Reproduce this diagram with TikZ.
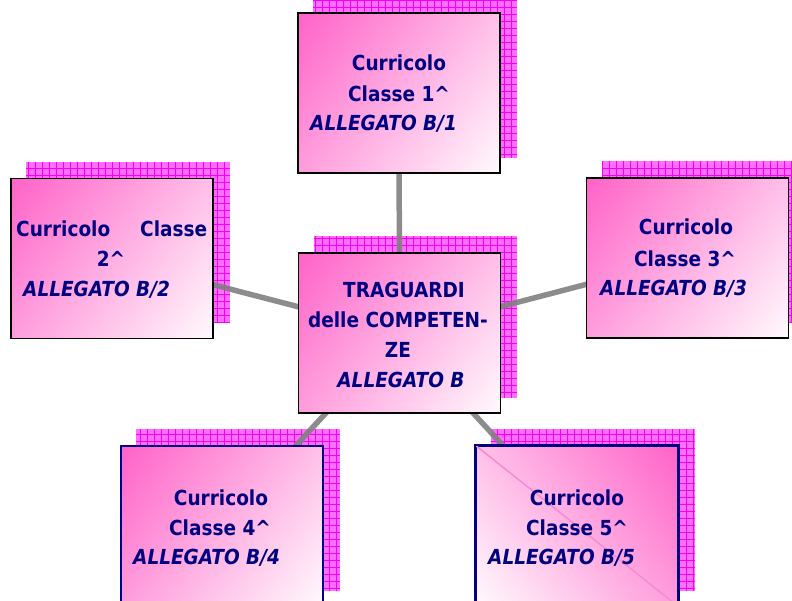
\documentclass[tikz,border=0pt]{standalone}
\usepackage{fontspec}
\setmainfont{DejaVu Sans}
\usetikzlibrary{calc}
\definecolor{navy}{RGB}{0,0,128}
\definecolor{hotpink}{RGB}{255,98,200}
\definecolor{midpink}{RGB}{255,172,224}
\definecolor{palepink}{RGB}{255,250,253}
\definecolor{shadowpink}{RGB}{255,110,255}
\definecolor{gridmag}{RGB}{245,0,245}
\definecolor{conngray}{RGB}{128,128,128}
\definecolor{diagpink}{RGB}{245,140,210}
\pgfdeclarelayer{shadowlayer}
\pgfdeclarelayer{connlayer}
\pgfsetlayers{shadowlayer,connlayer,main}
\newcommand{\tallt}[1]{\scalebox{1}[1.12]{#1}}
\begin{document}
\begin{tikzpicture}[x=1pt,y=-1pt,
  box/.style={rectangle, minimum width=202pt, minimum height=160pt, inner sep=0pt,
    line width=1.8pt, draw=black},
  gradfill/.style={path picture={
    \shade[transform canvas={rotate around={#1:(path picture bounding box.center)}},
      left color=hotpink, middle color=midpink, right color=palepink]
      ($(path picture bounding box.center)+(-129,-129)$) rectangle
      ($(path picture bounding box.center)+(129,129)$);}},
  txt/.style={font=\fontsize{18.5}{22}\selectfont\bfseries, text=navy, inner sep=0pt, anchor=base},
  itxt/.style={font=\fontsize{18.5}{22}\selectfont\bfseries\itshape, text=navy, inner sep=0pt, anchor=base west},
  conn/.style={draw=conngray, line width=5.5pt, draw opacity=0.9},
  shadowfill/.style={fill=shadowpink},
  shadowgrid/.style={draw=gridmag, line width=0.7pt}
  ]
\useasboundingbox (0,0) rectangle (792,601);

% boxes
\node[box, gradfill=-38.4] (b1) at (399,93) {};
\node[box, gradfill=-38.4] (b2) at (112,258.5) {};
\node[box, gradfill=-38.4] (bc) at (399.5,333) {};
\node[box, gradfill=-38.4] (b3) at (687.5,258) {};
\node[box, gradfill=-38.4, draw=navy] (b4) at (222,526) {};
\node[box, gradfill=218.4, draw=navy] (b5) at (577,526) {};
\draw[diagpink, line width=1.5pt] (b5.north west) -- (b5.south east);
\draw[navy, line width=1.8pt] (b5.north west) rectangle (b5.south east);

% shadows
\begin{pgfonlayer}{shadowlayer}
\foreach \b in {b1,b2,bc,b3,b4,b5}{
  \fill[shadowfill] ($(\b.north west)+(16,-16)$) rectangle ($(\b.south east)+(16,-16)$);
  \draw[shadowgrid] ($(\b.north west)+(16,-16)$) grid[step=7pt] ($(\b.south east)+(16,-16)$);
}
\end{pgfonlayer}

% connectors
\begin{pgfonlayer}{connlayer}
\draw[conn] (bc.center) -- (b1.center);
\draw[conn] (bc.center) -- (b2.center);
\draw[conn] (bc.center) -- (b3.center);
\draw[conn] (bc.center) -- (b4.center);
\draw[conn] (bc.center) -- (b5.center);
\end{pgfonlayer}

% texts box 1
\node[txt] (t1a) at (399,71) {\tallt{Curricolo}};
\node[txt] (t1b) at (399,102) {\tallt{Classe 1\textasciicircum}};
\node[itxt] (t1c) at (310,131) {\tallt{ALLEGATO B/1}};
% box 2
\node[txt, anchor=base west] (t2a) at (16,237) {\tallt{\makebox[191pt][s]{Curricolo\hfill Classe}}};
\node[txt] (t2b) at (111,267) {\tallt{2\textasciicircum}};
\node[itxt] (t2c) at (23,297) {\tallt{ALLEGATO B/2}};
% centre
\node[txt] (tca) at (404,298) {\tallt{TRAGUARDI}};
\node[txt] (tcb) at (398,328) {\tallt{delle COMPETEN-}};
\node[txt] (tcc) at (398,358) {\tallt{ZE}};
\node[txt, font=\fontsize{18.5}{22}\selectfont\bfseries\itshape] (tcd) at (401,387) {\tallt{ALLEGATO B}};
% box 3
\node[txt] (t3a) at (686,235) {\tallt{Curricolo}};
\node[txt] (t3b) at (685,266.5) {\tallt{Classe 3\textasciicircum}};
\node[itxt] (t3c) at (600,296) {\tallt{ALLEGATO B/3}};
% box 4
\node[txt] (t4a) at (221,505) {\tallt{Curricolo}};
\node[txt] (t4b) at (220,535) {\tallt{Classe 4\textasciicircum}};
\node[itxt] (t4c) at (133,564) {\tallt{ALLEGATO B/4}};
% box 5
\node[txt] (t5a) at (577,505) {\tallt{Curricolo}};
\node[txt] (t5b) at (577,535) {\tallt{Classe 5\textasciicircum}};
\node[itxt] (t5c) at (488,564) {\tallt{ALLEGATO B/5}};
\end{tikzpicture}
\end{document}
